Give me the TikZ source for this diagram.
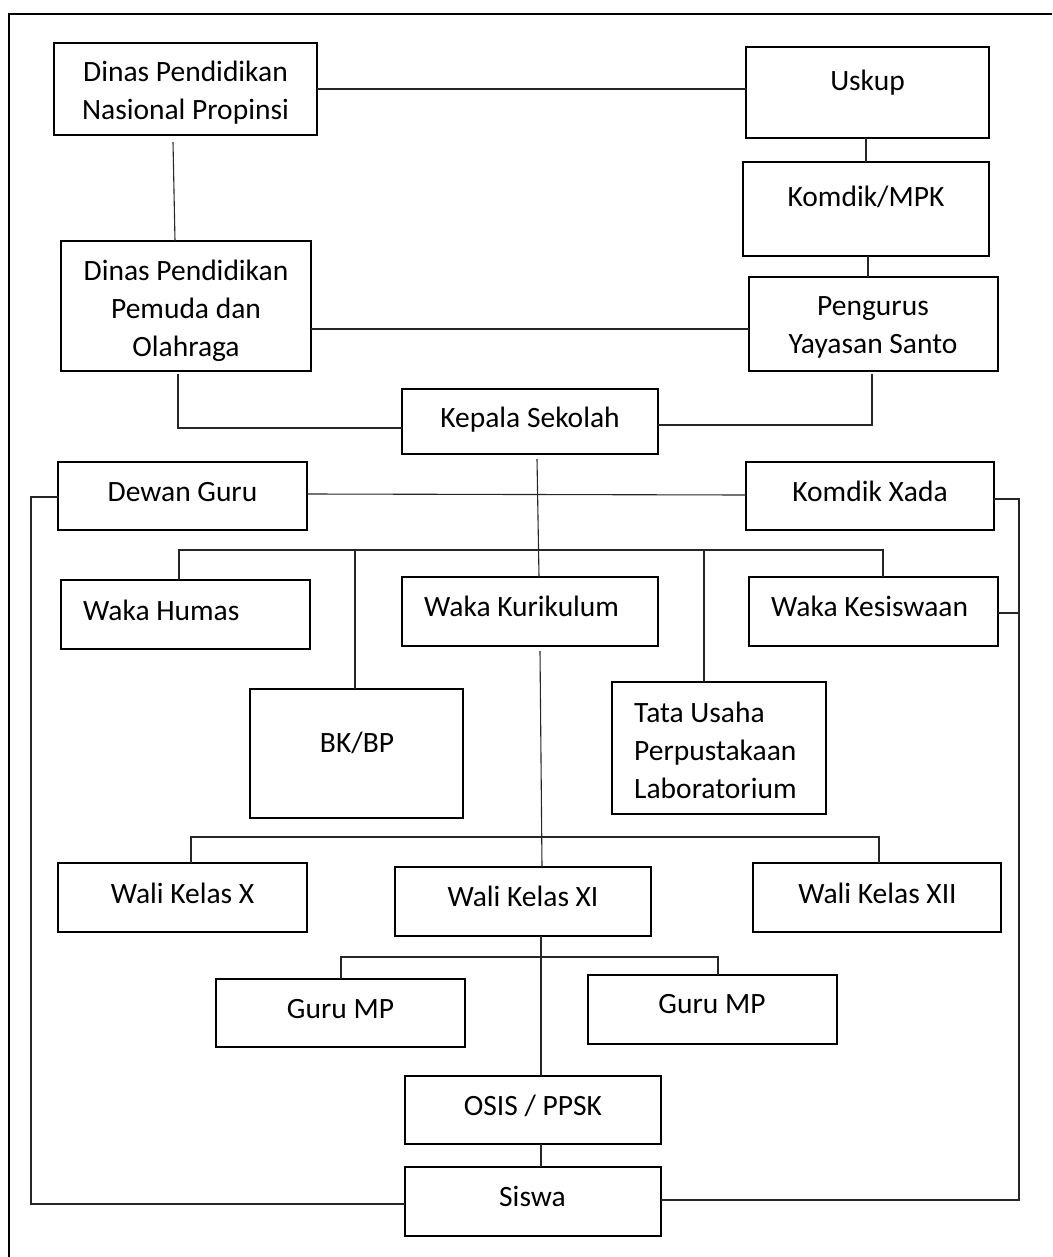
\documentclass[tikz,border=0pt]{standalone}
\usepackage{fontspec}
\setmainfont{Carlito}
\usetikzlibrary{fit}
\begin{document}
\begin{tikzpicture}[x=1pt,y=-1pt,
  box/.style={draw=black,line width=2pt,inner sep=0pt,outer sep=0pt},
  txt/.style={inner sep=0pt,font=\fontsize{29.5}{38}\selectfont,align=center},
  ltxt/.style={inner sep=0pt,font=\fontsize{29.5}{38}\selectfont,align=left,anchor=base west},
  conn/.style={draw=black!85,line width=1.1pt},
  frame/.style={draw=black,line width=2.2pt}]
\useasboundingbox (0,0) rectangle (1052,1257);
\draw[frame] (9,1257) -- (9,14) -- (1052,14);

% boxes
\node[box,fit={(54,43)(317,135)}] (dn) {};
\node[box,fit={(746,47)(989,138)}] (usk) {};
\node[box,fit={(743,162)(989,256)}] (kmpk) {};
\node[box,fit={(749,277)(998,371)}] (peng) {};
\node[box,fit={(61,241)(311,371)}] (dp) {};
\node[box,fit={(402,389)(658,454)}] (kep) {};
\node[box,fit={(58,462)(307,530)}] (dg) {};
\node[box,fit={(746,462)(994,530)}] (kx) {};
\node[box,fit={(61,580)(310,649)}] (wh) {};
\node[box,fit={(402,577)(658,646)}] (wk) {};
\node[box,fit={(749,577)(998,646)}] (wks) {};
\node[box,fit={(250,689)(463,818)}] (bk) {};
\node[box,fit={(612,682)(826,814)}] (tu) {};
\node[box,fit={(58,863)(307,932)}] (w10) {};
\node[box,fit={(395,867)(651,936)}] (w11) {};
\node[box,fit={(753,863)(1001,932)}] (w12) {};
\node[box,fit={(216,979)(465,1047)}] (gm1) {};
\node[box,fit={(588,975)(837,1044)}] (gm2) {};
\node[box,fit={(405,1076)(661,1144)}] (osis) {};
\node[box,fit={(405,1167)(661,1236)}] (siswa) {};

% texts (multi-line nodes: base = baseline of last line)
\node[txt,anchor=base] (dnT) at (185.5,120) {Dinas Pendidikan\\Nasional Propinsi};
\node[txt,anchor=base] (uskT) at (867.5,91) {Uskup};
\node[txt,anchor=base] (kmpkT) at (866,207) {Komdik/MPK};
\node[txt,anchor=base] (pengT) at (873,353) {Pengurus\\Yayasan Santo};
\node[txt,anchor=base] (dpT) at (186,356) {Dinas Pendidikan\\Pemuda dan\\Olahraga};
\node[txt,anchor=base] (kepT) at (530,427) {Kepala Sekolah};
\node[txt,anchor=base] (dgT) at (182.5,501) {Dewan Guru};
\node[txt,anchor=base] (kxT) at (870,501) {Komdik Xada};
\node[ltxt] (whT) at (83,620) {Waka Humas};
\node[ltxt] (wkT) at (424,616) {Waka Kurikulum};
\node[ltxt] (wksT) at (771,616) {Waka Kesiswaan};
\node[txt,anchor=base] (bkT) at (357,752) {BK/BP};
\node[ltxt] (tuT) at (634,798) {Tata Usaha\\Perpustakaan\\Laboratorium};
\node[txt,anchor=base] (w10T) at (182.5,903) {Wali Kelas X};
\node[txt,anchor=base] (w11T) at (523,906) {Wali Kelas XI};
\node[txt,anchor=base] (w12T) at (877.5,903) {Wali Kelas XII};
\node[txt,anchor=base] (gm1T) at (340.5,1018) {Guru MP};
\node[txt,anchor=base] (gm2T) at (712,1013) {Guru MP};
\node[txt,anchor=base] (osisT) at (533,1115) {OSIS / PPSK};
\node[txt,anchor=base] (siswaT) at (532.5,1206) {Siswa};

% helper coordinates
\coordinate (dnb) at (173,142);
\coordinate (dpb) at (178,374);
\coordinate (pgb) at (872,374);
\coordinate (kpb) at (537,459);
\coordinate (wkb) at (540,651);
\coordinate (lbend) at (31,1204);
\coordinate (rbend) at (1019,1200);
\coordinate (bus1R) at (883,550);
\coordinate (bus2R) at (879,837);
\coordinate (bus3R) at (718,957);

% connectors
\draw[conn] (dn.east) -- (dn.east -| usk.west);
\draw[conn] (dnb) -- (dp.north -| 175,0);
\draw[conn] (usk.south -| 866,0) -- (kmpk.north -| 866,0);
\draw[conn] (kmpk.south -| 868,0) -- (peng.north -| 868,0);
\draw[conn] (dp.east |- 0,329) -- (peng.west |- 0,329);
\draw[conn] (dpb) |- (kep.west |- 0,428);
\draw[conn] (pgb) |- (kep.east |- 0,425);
\draw[conn] (kpb) -- (wk.north -| 539,0);
\draw[conn] (dg.east |- 0,494) -- (kx.west |- 0,495);
\draw[conn] (dg.west |- 0,497) -| (lbend) -- (siswa.west |- lbend);
\draw[conn] (kx.east |- 0,499) -| (rbend) -- (siswa.east |- rbend);
\draw[conn] (wks.east |- 0,613) -- (rbend |- 0,613);
\draw[conn] (wh.north -| 179,0) |- (bus1R) -- (bus1R |- wks.north);
\draw[conn] (bus1R -| 355,0) -- (bk.north -| 355,0);
\draw[conn] (bus1R -| 704,0) -- (tu.north -| 704,0);
\draw[conn] (wkb) -- (w11.north -| 542,0);
\draw[conn] (w10.north -| 191,0) |- (bus2R) -- (bus2R |- w12.north);
\draw[conn] (w11.south -| 541,0) -- (osis.north -| 541,0);
\draw[conn] (gm1.north -| 341,0) |- (bus3R) -- (bus3R |- gm2.north);
\draw[conn] (osis.south -| 541,0) -- (siswa.north -| 541,0);
\end{tikzpicture}
\end{document}
